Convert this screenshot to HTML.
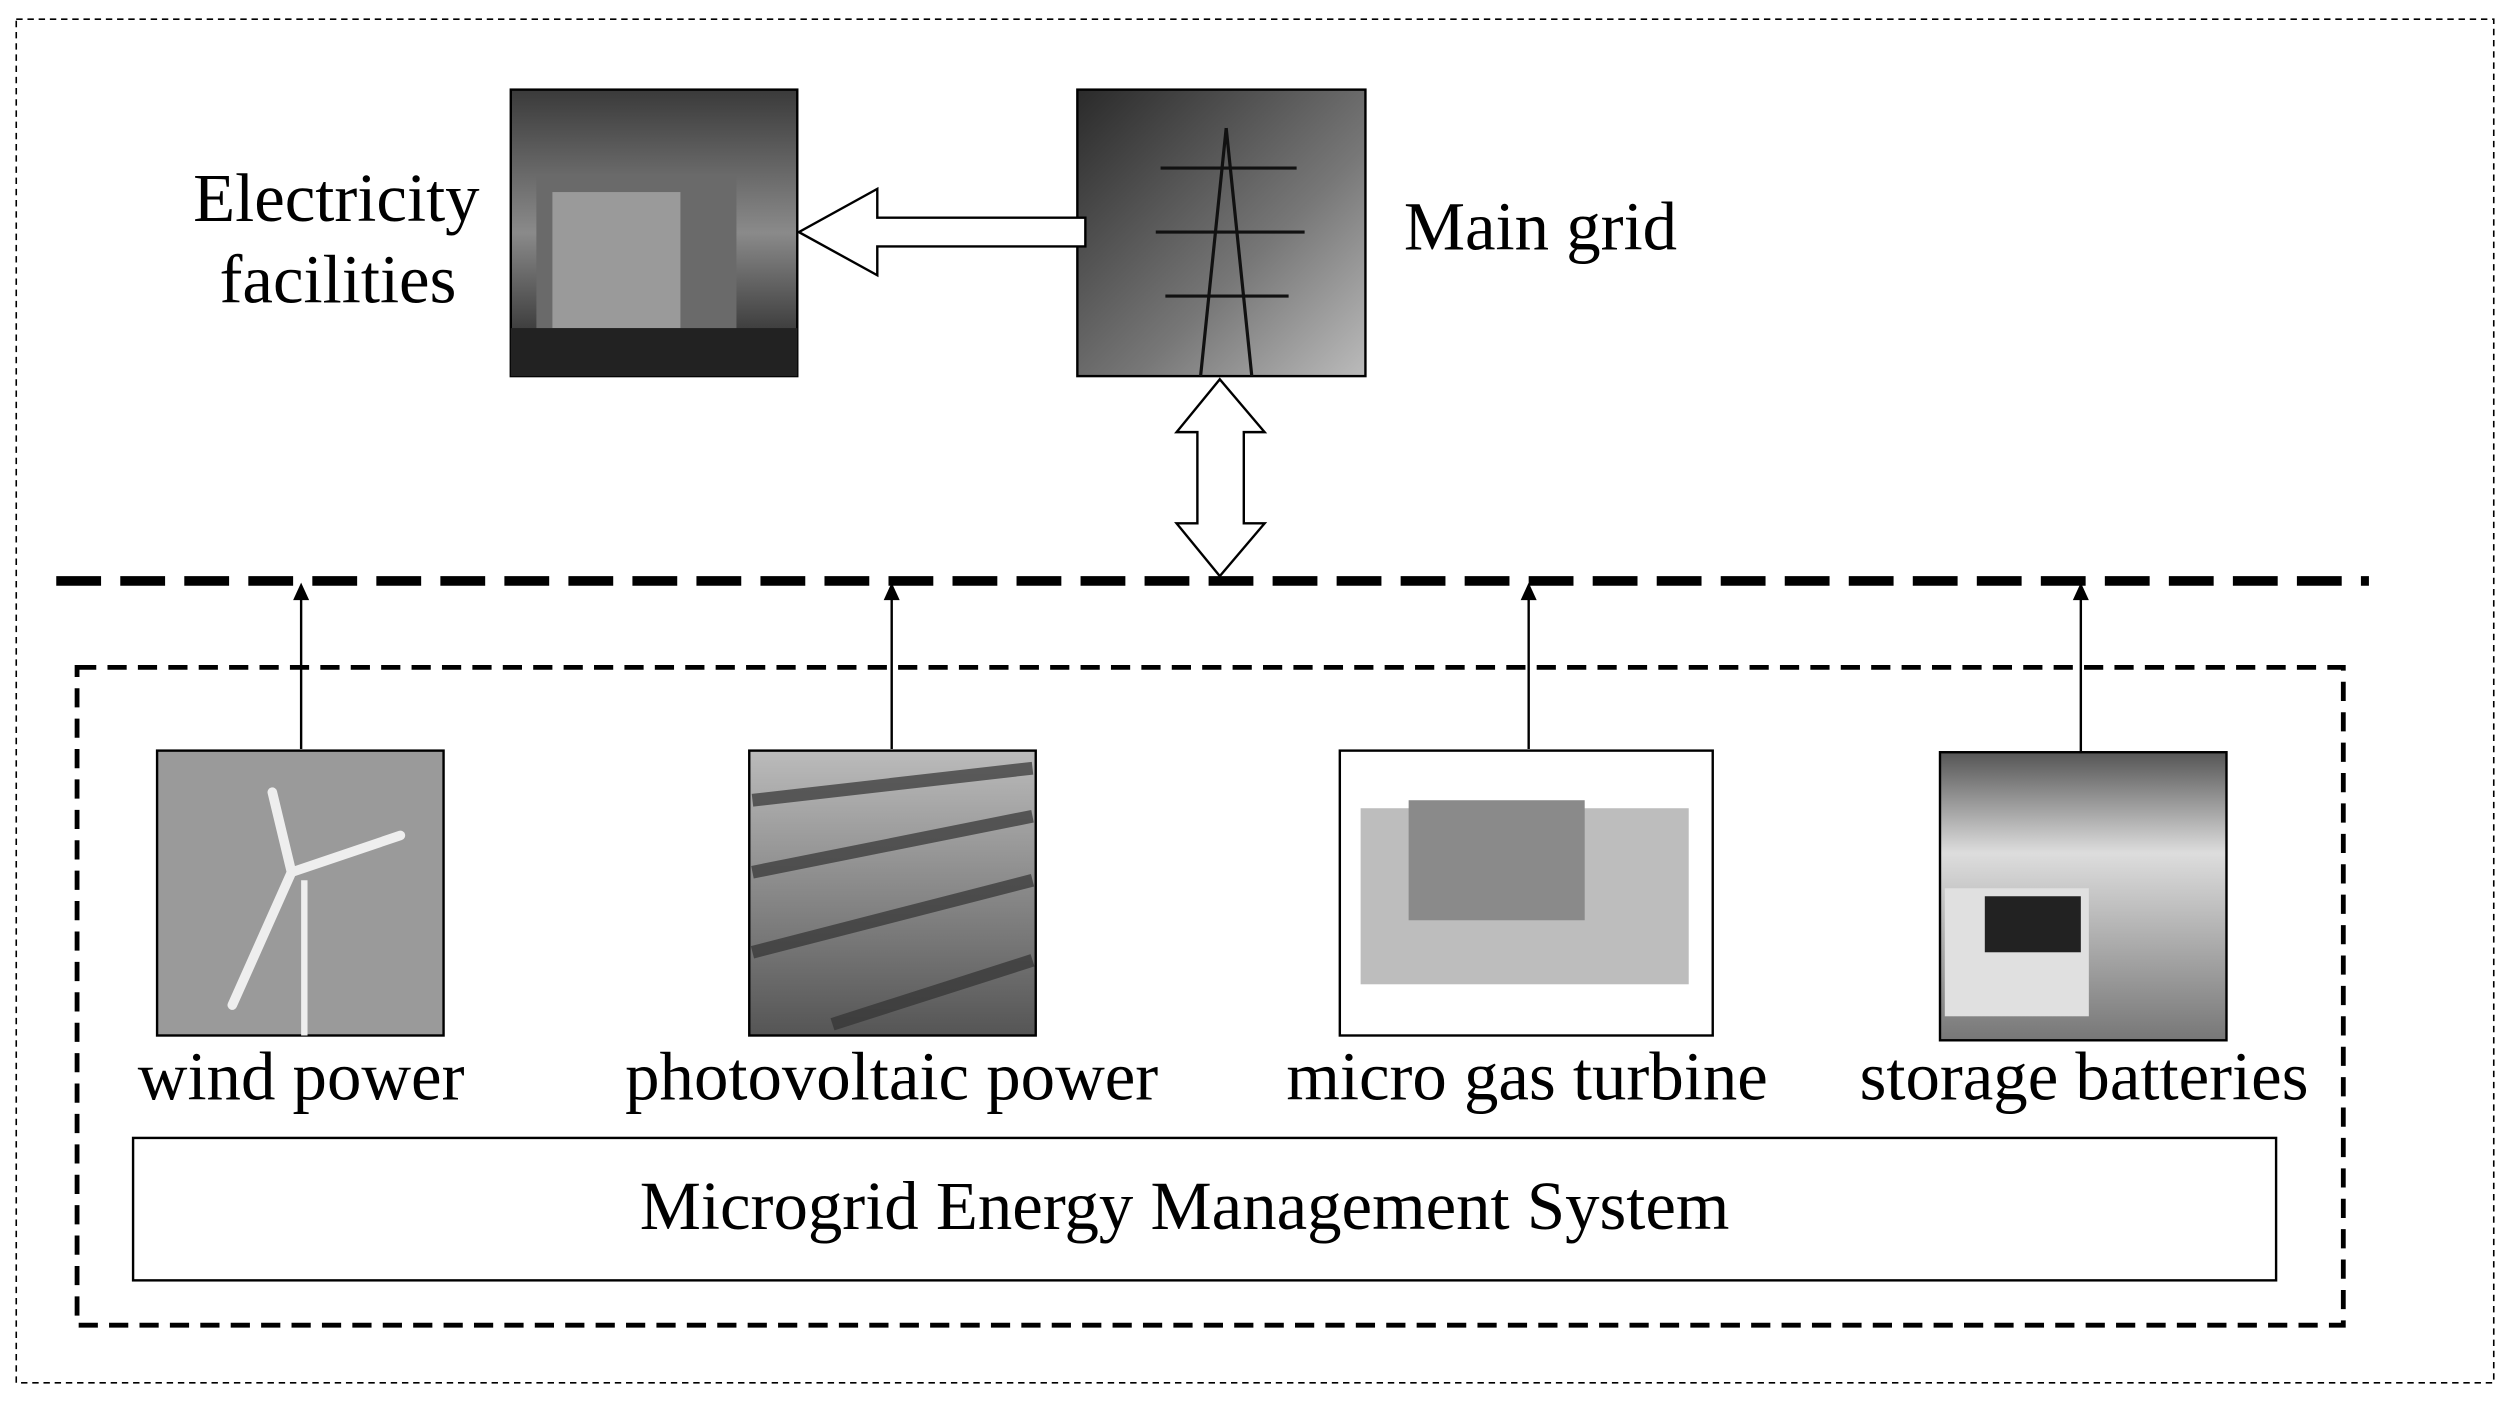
<!DOCTYPE html>
<html><head><meta charset="utf-8"><style>html,body{margin:0;padding:0;background:#fff}svg{display:block}</style></head>
<body>
<svg width="2510" height="1402" viewBox="0 0 1568 876" xmlns="http://www.w3.org/2000/svg" font-family="Liberation Serif, serif">
<defs>
<linearGradient id="bld" x1="0" y1="0" x2="0" y2="1"><stop offset="0" stop-color="#3a3a3a"/><stop offset="0.5" stop-color="#8a8a8a"/><stop offset="1" stop-color="#1a1a1a"/></linearGradient>
<linearGradient id="sky" x1="0" y1="0" x2="1" y2="1"><stop offset="0" stop-color="#2a2a2a"/><stop offset="0.6" stop-color="#777"/><stop offset="1" stop-color="#bbb"/></linearGradient>
<linearGradient id="pv" x1="0" y1="0" x2="0" y2="1"><stop offset="0" stop-color="#bbb"/><stop offset="1" stop-color="#555"/></linearGradient>
<linearGradient id="bat" x1="0" y1="0" x2="0" y2="1"><stop offset="0" stop-color="#555"/><stop offset="0.35" stop-color="#ddd"/><stop offset="1" stop-color="#777"/></linearGradient>
</defs>
<rect x="10" y="12" width="1548" height="852" fill="none" stroke="#000" stroke-width="1" stroke-dasharray="4,3"/>
<rect x="319" y="56" width="179" height="179" fill="url(#bld)" stroke="#000" stroke-width="1.5"/>
<rect x="335" y="110" width="125" height="100" fill="#6a6a6a"/>
<rect x="345" y="120" width="80" height="85" fill="#9a9a9a"/>
<rect x="319" y="205" width="179" height="30" fill="#222"/>
<rect x="673" y="56" width="180" height="179" fill="url(#sky)" stroke="#000" stroke-width="1.5"/>
<path d="M766 80 L750 235 M766 80 L782 235 M725 105 L810 105 M722 145 L815 145 M728 185 L805 185" stroke="#111" stroke-width="2" fill="none"/>
<path d="M678 136 L548 136 L548 118 L499 145 L548 172 L548 154 L678 154 Z" fill="#fff" stroke="#000" stroke-width="1.5"/>
<text x="210" y="138" font-size="43" text-anchor="middle">Electricity</text>
<text x="211" y="189" font-size="43" text-anchor="middle">facilities</text>
<text x="877" y="156" font-size="43">Main grid</text>
<path d="M762 237 L790 270 L777 270 L777 327 L790 327 L762 360 L735 327 L748 327 L748 270 L735 270 Z" fill="#fff" stroke="#000" stroke-width="1.5"/>
<line x1="35" y1="363" x2="1480" y2="363" stroke="#000" stroke-width="6" stroke-dasharray="28,12"/>
<g stroke="#000" stroke-width="1.5">
<line x1="188" y1="468" x2="188" y2="372"/><line x1="557" y1="468" x2="557" y2="372"/><line x1="955" y1="468" x2="955" y2="372"/><line x1="1300" y1="470" x2="1300" y2="372"/></g>
<g fill="#000"><path d="M188 364 L183 375 L193 375Z"/><path d="M557 364 L552 375 L562 375Z"/><path d="M955 364 L950 375 L960 375Z"/><path d="M1300 364 L1295 375 L1305 375Z"/></g>
<rect x="48" y="417" width="1416" height="411" fill="none" stroke="#000" stroke-width="3" stroke-dasharray="12,7"/>
<rect x="98" y="469" width="179" height="178" fill="#9a9a9a" stroke="#000" stroke-width="1.5"/>
<path d="M190 647 L190 550" stroke="#eee" stroke-width="4"/>
<path d="M182 545 L170 495 M182 545 L250 522 M182 545 L145 628" stroke="#eee" stroke-width="6" stroke-linecap="round"/>
<rect x="468" y="469" width="179" height="178" fill="url(#pv)" stroke="#000" stroke-width="1.5"/>
<g stroke="#333" stroke-width="8" opacity="0.7"><line x1="470" y1="500" x2="645" y2="480"/><line x1="470" y1="545" x2="645" y2="510"/><line x1="470" y1="595" x2="645" y2="550"/><line x1="520" y1="640" x2="645" y2="600"/></g>
<rect x="837" y="469" width="233" height="178" fill="#fff" stroke="#000" stroke-width="1.5"/>
<rect x="850" y="505" width="205" height="110" fill="#bdbdbd"/>
<rect x="880" y="500" width="110" height="75" fill="#8a8a8a"/>
<rect x="1212" y="470" width="179" height="180" fill="url(#bat)" stroke="#000" stroke-width="1.5"/>
<rect x="1215" y="555" width="90" height="80" fill="#e0e0e0"/>
<rect x="1240" y="560" width="60" height="35" fill="#222"/>
<g font-size="43" text-anchor="middle">
<text x="188" y="687">wind power</text>
<text x="557" y="687">photovoltaic power</text>
<text x="954" y="687">micro gas turbine</text>
<text x="1302" y="687">storage batteries</text>
</g>
<rect x="83" y="711" width="1339" height="89" fill="#fff" stroke="#000" stroke-width="1.5"/>
<text x="740" y="768" font-size="43" text-anchor="middle">Microgrid Energy Management System</text>
</svg>
</body></html>
